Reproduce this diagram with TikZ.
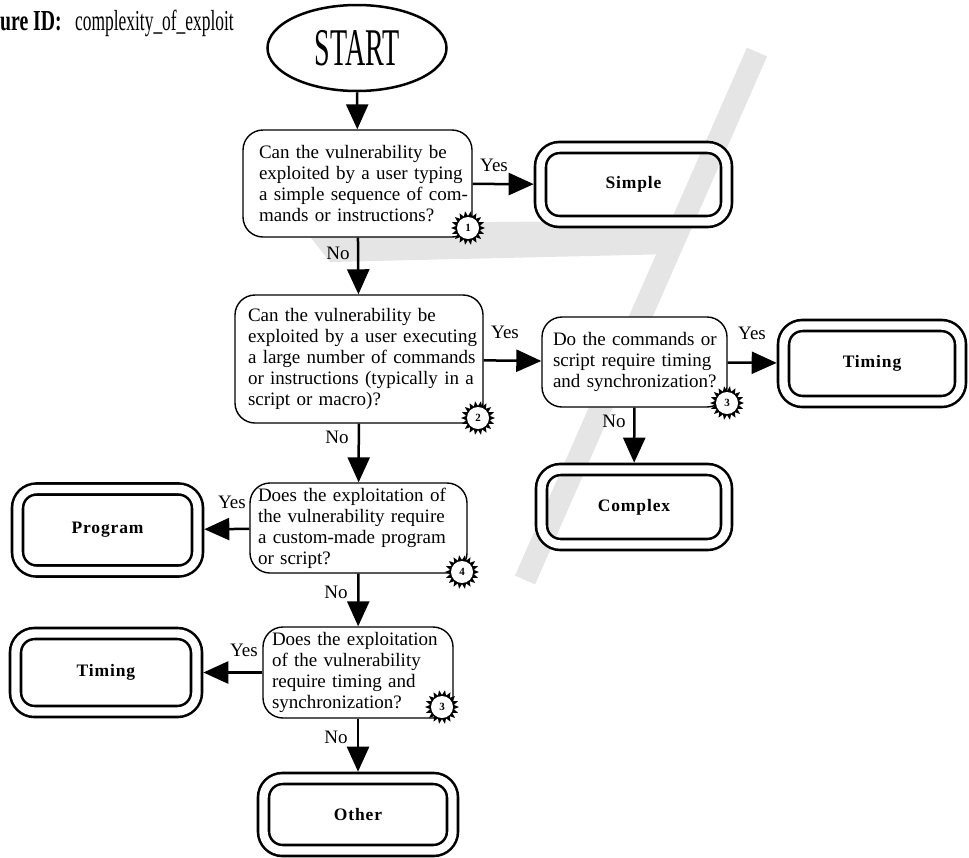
\documentclass[tikz,border=0pt]{standalone}
\usepackage{fontspec}
\setmainfont{Liberation Serif}
\newfontfamily\narrowserif[FakeStretch=0.6]{Liberation Serif}
\newfontfamily\narrowbold[FakeStretch=0.68]{Liberation Serif Bold}
\newfontfamily\startserif[FakeStretch=0.53]{Liberation Serif}
\newfontfamily\termserif[LetterSpace=5]{Liberation Serif Bold}
\usetikzlibrary{arrows.meta,shapes.geometric}

% one unbreakable line of a question box
\newcommand\qrow[1]{\mbox{#1}}

\definecolor{wmark}{RGB}{229,229,229}

\tikzset{
  question/.style={draw, fill=white, line width=1.4pt, rounded corners=20pt, align=left,
    inner ysep=0pt, font=\fontsize{19}{21}\selectfont},
  terminal/.style={draw, line width=2.6pt, double=white, double distance=8.4pt,
    rounded corners=19pt, inner sep=0pt, outer sep=6.8pt,
    font=\termserif\fontsize{17.5}{19}\selectfont},
  flow/.style={line width=2.5pt, -{Triangle[length=25pt,width=22pt]}},
  answer/.style={inner sep=0pt, font=\fontsize{19}{21}\selectfont},
  badge/.pic={
    \fill (0:17) \foreach \k in {0,...,17}{ -- (\k*20:17) -- (\k*20+10:12) } -- cycle;
    \fill[white] (0,0) circle[radius=11];
    \node[inner sep=0pt, font=\bfseries\fontsize{11}{11}\selectfont] (num) {#1};
  }
}

\begin{document}
\begin{tikzpicture}[x=1pt,y=-1pt]
\useasboundingbox (0,0) rectangle (969,857);

% faint background watermark strokes
\draw[wmark, line width=22pt] (757,52) -- (525,580);
\fill[wmark] (300,224) -- (690,220) -- (675,254) -- (330,262) -- cycle;

% heading
\node[anchor=base west, inner sep=0pt, font=\narrowbold\fontsize{29}{29}\selectfont] (fid) at (0,30) {ure ID:};
\node[anchor=base west, inner sep=0pt, font=\narrowserif\fontsize{29}{29}\selectfont] (fname) at (75,30) {complexity\_of\_exploit};

% start
\node[draw, fill=white, ellipse, line width=2.5pt, inner sep=0pt, minimum width=179pt, minimum height=86pt,
  font=\startserif\fontsize{53}{53}\selectfont] (start) at (357,48) {START};

% questions
\node[question, text width=197pt, inner xsep=16pt, minimum height=107pt] (q1) at (357.5,183.5)
  {\qrow{Can the vulnerability be}\\\qrow{exploited by a user typing}\\
   \qrow{a simple sequence of com-}\\\qrow{mands or instructions?}};
\node[question, text width=222pt, inner xsep=13pt, minimum height=128pt] (q2) at (359,359)
  {\qrow{Can the vulnerability be}\\\qrow{exploited by a user executing}\\
   \qrow{a large number of commands}\\\qrow{or instructions (typically in a}\\
   \qrow{script or macro)?}};
\node[question, text width=163pt, inner xsep=11pt, minimum height=90pt] (q3) at (634.5,362)
  {\qrow{Do the commands or}\\\qrow{script require timing}\\\qrow{and synchronization?}};
\node[question, text width=201pt, inner xsep=8pt, minimum height=90pt] (q4) at (358.5,528)
  {\qrow{Does the exploitation of}\\\qrow{the vulnerability require}\\
   \qrow{a custom-made program}\\\qrow{or script?}};
\node[question, text width=172pt, inner xsep=9pt, minimum height=91pt] (q5) at (358,672.5)
  {\qrow{Does the exploitation}\\\qrow{of the vulnerability}\\
   \qrow{require timing and}\\\qrow{synchronization?}};

% outcomes
\node[terminal, minimum width=186pt, minimum height=74pt] (simple) at (633.5,184.5) {Simple};
\node[terminal, minimum width=177pt, minimum height=76pt] (timingR) at (872,363.5) {Timing};
\node[terminal, minimum width=185pt, minimum height=75pt] (complex) at (634,507) {Complex};
\node[terminal, minimum width=180pt, minimum height=82pt] (program) at (107.5,530) {Program};
\node[terminal, minimum width=181pt, minimum height=78pt] (timingL) at (106,672.5) {Timing};
\node[terminal, minimum width=189pt, minimum height=72pt] (other) at (358,814.5) {Other};

% connectors
\draw[flow] (start) -- (q1);
\draw[flow] (q1) -- (simple);
\draw[flow] (q1) -- (q2);
\draw[flow] (q2) -- (q3);
\draw[flow] (q3) -- (timingR);
\draw[flow] (q3) -- (complex);
\draw[flow] (q2) -- (q4);
\draw[flow] (q4) -- (program);
\draw[flow] (q4) -- (q5);
\draw[flow] (q5) -- (timingL);
\draw[flow] (q5) -- (other);

% answer labels
\node[answer] (y1) at (494,165) {Yes};
\node[answer] (n1) at (338,253) {No};
\node[answer] (y2) at (505,332) {Yes};
\node[answer] (y3) at (752,333) {Yes};
\node[answer] (n3) at (614,421) {No};
\node[answer] (n2) at (337,437) {No};
\node[answer] (y4) at (232,502) {Yes};
\node[answer] (n4) at (336,592) {No};
\node[answer] (y5) at (244,650) {Yes};
\node[answer] (n5) at (336,737) {No};

% reference badges
\pic (b1) at (468,228) {badge=1};
\pic (b2) at (478,418) {badge=2};
\pic (b3) at (727,403) {badge=3};
\pic (b4) at (462,572) {badge=4};
\pic (b5) at (442,707) {badge=3};
\end{tikzpicture}
\end{document}
